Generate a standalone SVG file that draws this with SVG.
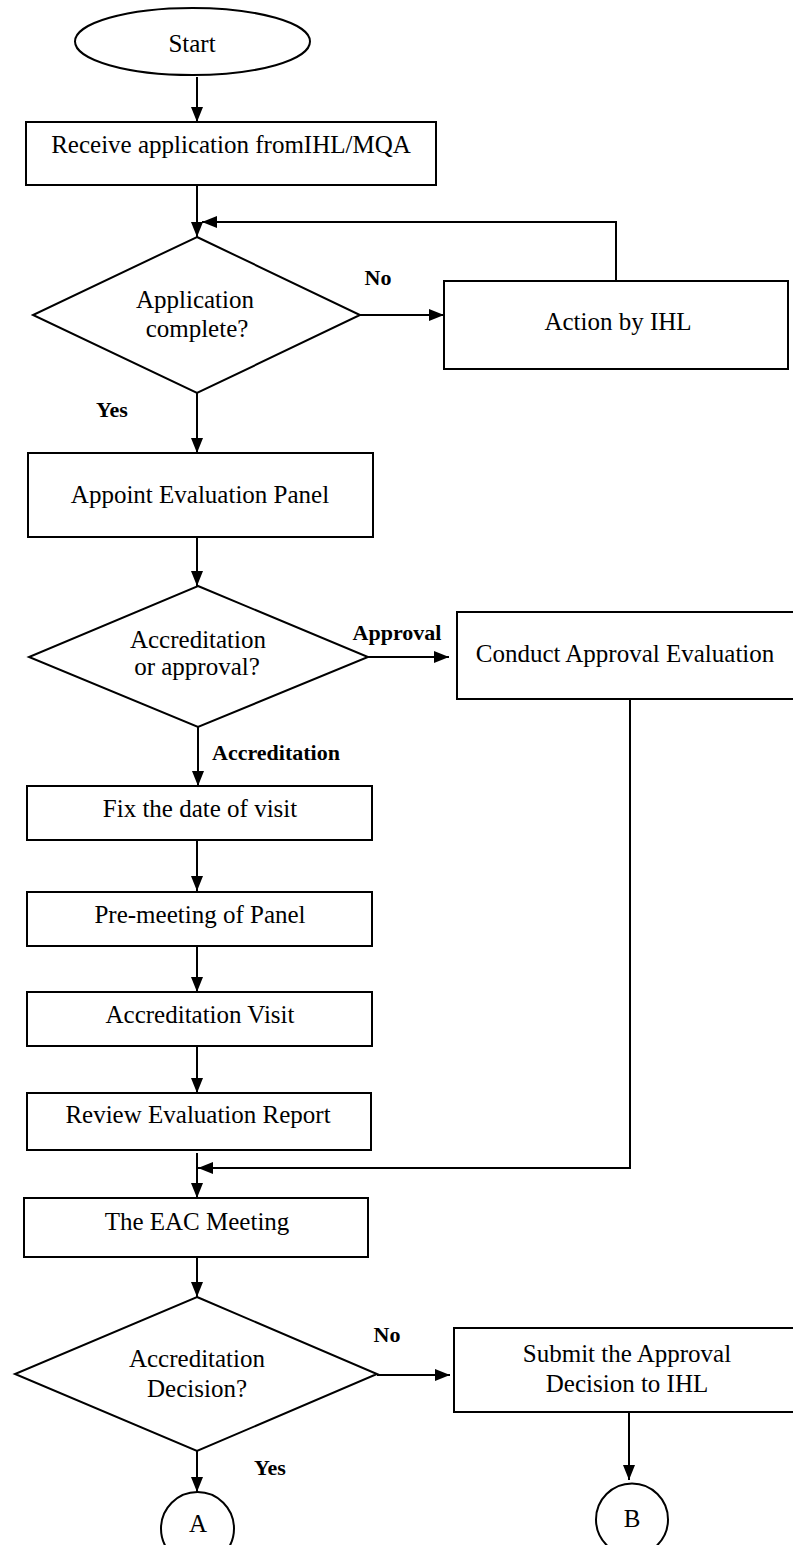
<svg xmlns="http://www.w3.org/2000/svg" width="793" height="1545" viewBox="0 0 793 1545">
<defs>
<marker id="ah" markerUnits="userSpaceOnUse" markerWidth="15" markerHeight="12" refX="15" refY="6" orient="auto">
<path d="M0,0 L15,6 L0,12 z" fill="#000"/>
</marker>
<style>
.n{fill:#fff;stroke:#000;stroke-width:2}
.t{font-family:"Liberation Serif","Times New Roman",serif;font-size:25px;fill:#000;text-anchor:middle}
.b{font-family:"Liberation Serif","Times New Roman",serif;font-size:22px;font-weight:bold;fill:#000;text-anchor:middle}
.c{fill:none;stroke:#000;stroke-width:2}
.a{marker-end:url(#ah)}
</style>
</defs>
<rect width="793" height="1545" fill="#fff"/>
<g id="connectors">
<path class="c a" d="M197,77 L197,122"/>
<path class="c a" d="M197,185 L197,237"/>
<path class="c a" d="M616,281 L616,222 L202,222"/>
<path class="c a" d="M360,315 L444,315"/>
<path class="c a" d="M197,393 L197,453"/>
<path class="c a" d="M197,537 L197,586"/>
<path class="c a" d="M368,657 L449,657"/>
<path class="c a" d="M198,727 L198,786"/>
<path class="c a" d="M197,840 L197,891"/>
<path class="c a" d="M197,946 L197,992"/>
<path class="c a" d="M197,1046 L197,1093"/>
<path class="c a" d="M630,699 L630,1168 L198,1168"/>
<path class="c a" d="M197,1153 L197,1198"/>
<path class="c a" d="M197,1257 L197,1297"/>
<path class="c a" d="M377,1375 L450,1375"/>
<path class="c a" d="M629,1412 L629,1480"/>
<path class="c a" d="M197,1451 L197,1492"/>
</g>
<g id="start">
<ellipse class="n" cx="192.5" cy="41.5" rx="117.5" ry="33.5"/>
<text class="t" x="192" y="52">Start</text>
</g>
<g id="receive">
<rect class="n" x="26" y="122" width="410" height="63"/>
<text class="t" x="231" y="153">Receive application fromIHL/MQA</text>
</g>
<g id="complete">
<polygon class="n" points="197,237 360,315 197,393 33,315"/>
<text class="t" x="195" y="308">Application</text>
<text class="t" x="197" y="337">complete?</text>
</g>
<g id="action">
<rect class="n" x="444" y="281" width="344" height="88"/>
<text class="t" x="618" y="330">Action by IHL</text>
</g>
<g id="appoint">
<rect class="n" x="28" y="453" width="345" height="84"/>
<text class="t" x="200" y="503">Appoint Evaluation Panel</text>
</g>
<g id="accorapp">
<polygon class="n" points="198,586 368,657 198,727 29,657"/>
<text class="t" x="198" y="648">Accreditation</text>
<text class="t" x="197" y="675">or approval?</text>
</g>
<g id="conduct">
<rect class="n" x="457" y="612" width="340" height="87"/>
<text class="t" x="625" y="662">Conduct Approval Evaluation</text>
</g>
<g id="fix">
<rect class="n" x="27" y="786" width="345" height="54"/>
<text class="t" x="200" y="817">Fix the date of visit</text>
</g>
<g id="premeeting">
<rect class="n" x="27" y="892" width="345" height="54"/>
<text class="t" x="200" y="923">Pre-meeting of Panel</text>
</g>
<g id="visit">
<rect class="n" x="27" y="992" width="345" height="54"/>
<text class="t" x="200" y="1023">Accreditation Visit</text>
</g>
<g id="review">
<rect class="n" x="27" y="1093" width="344" height="57"/>
<text class="t" x="198" y="1123">Review Evaluation Report</text>
</g>
<g id="eac">
<rect class="n" x="24" y="1198" width="344" height="59"/>
<text class="t" x="197" y="1230">The EAC Meeting</text>
</g>
<g id="decision">
<polygon class="n" points="197,1297 377,1374 197,1451 15,1374"/>
<text class="t" x="197" y="1367">Accreditation</text>
<text class="t" x="197" y="1397">Decision?</text>
</g>
<g id="submit">
<rect class="n" x="454" y="1328" width="343" height="84"/>
<text class="t" x="627" y="1362">Submit the Approval</text>
<text class="t" x="627" y="1392">Decision to IHL</text>
</g>
<g id="connA">
<circle class="n" cx="197.5" cy="1528.5" r="36.5"/>
<text class="t" x="198" y="1532">A</text>
</g>
<g id="connB">
<circle class="n" cx="632" cy="1519.5" r="36"/>
<text class="t" x="632" y="1527">B</text>
</g>
<g id="labels">
<text class="b" x="378" y="285">No</text>
<text class="b" x="112" y="417">Yes</text>
<text class="b" x="397" y="640">Approval</text>
<text class="b" x="276" y="760">Accreditation</text>
<text class="b" x="387" y="1342">No</text>
<text class="b" x="270" y="1475">Yes</text>
</g>
</svg>
